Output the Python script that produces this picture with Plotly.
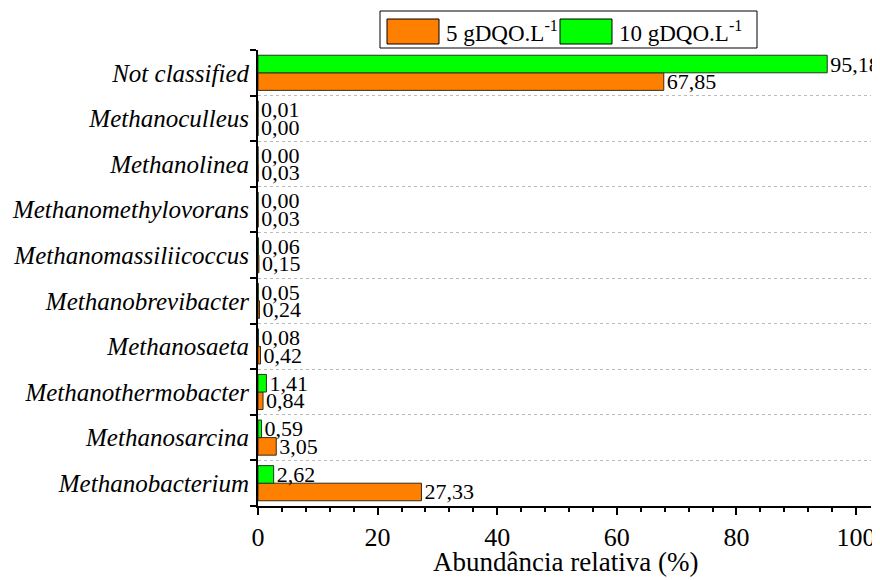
import plotly.graph_objects as go

categories = ["Not classified", "Methanoculleus", "Methanolinea", "Methanomethylovorans",
              "Methanomassiliicoccus", "Methanobrevibacter", "Methanosaeta",
              "Methanothermobacter", "Methanosarcina", "Methanobacterium"]
series_names = ["5 gDQO.L<sup>-1</sup>", "10 gDQO.L<sup>-1</sup>"]
val_5 = [67.85, 0.00, 0.03, 0.03, 0.15, 0.24, 0.42, 0.84, 3.05, 27.33]
val_10 = [95.18, 0.01, 0.00, 0.00, 0.06, 0.05, 0.08, 1.41, 0.59, 2.62]
x_ticks = [0, 20, 40, 60, 80, 100]
x_title = "Abundância relativa (%)"

COLORS = ["#FF7F00", "#00FF00"]
EDGES = ["#3a2a10", "#1a3a1a"]

cats = categories[::-1]
series_vals = [val_5[::-1], val_10[::-1]]

FONT = "Liberation Serif"

# page shows the figure offset by the 8px body margin
OFF = 8
L, R, T, B = 258 - OFF, 871 - OFF, 50 - OFF, 506 - OFF
W, H = R - L, B - T


def px(x):
    return (x - OFF - L) / W


def py(y):
    return (B - (y - OFF)) / H


fig = go.Figure()
for name, vals, col, edge in zip(series_names, series_vals, COLORS, EDGES):
    fig.add_trace(go.Bar(
        y=cats, x=vals, orientation="h", name=name,
        marker=dict(color=col, line=dict(color=edge, width=1)),
        texttemplate="%{x:.2f}", textposition="outside", cliponaxis=False,
        constraintext="none",
        textfont=dict(family=FONT, size=22, color="black"),
        showlegend=False,
    ))

# custom legend (box with wide swatches), positions in page pixels
shapes = [dict(type="rect", xref="paper", yref="paper",
               x0=px(380), x1=px(757), y0=py(48), y1=py(11),
               line=dict(color="black", width=1), fillcolor="white")]
annotations = []
sw_x = [387, 560]
txt_x = [444, 617]
for i, name in enumerate(series_names):
    shapes.append(dict(type="rect", xref="paper", yref="paper",
                       x0=px(sw_x[i]), x1=px(sw_x[i] + 52), y0=py(44), y1=py(19),
                       line=dict(color="black", width=1), fillcolor=COLORS[i]))
    annotations.append(dict(xref="paper", yref="paper", x=px(txt_x[i]), y=py(31.5),
                            xanchor="left", yanchor="middle", showarrow=False,
                            text=name, font=dict(family=FONT, size=23, color="black")))

# x-axis title
annotations.append(dict(xref="paper", yref="paper", x=px(565), y=py(562),
                        xanchor="center", yanchor="middle", showarrow=False,
                        text=x_title, font=dict(family=FONT, size=27, color="black")))

fig.update_layout(
    width=880, height=580,
    margin=dict(l=L, r=880 - R, t=T, b=580 - B, autoexpand=False),
    paper_bgcolor="white", plot_bgcolor="white",
    barmode="group", bargap=0.23, bargroupgap=0,
    separators=",.",
    font=dict(family=FONT, size=22, color="black"),
    showlegend=False,
    shapes=shapes, annotations=annotations,
    xaxis=dict(range=[0, 102.5], tickvals=x_ticks, ticktext=[str(t) for t in x_ticks],
               showline=True, linecolor="black", linewidth=2,
               ticks="outside", ticklen=7, tickwidth=2, tickcolor="black",
               minor=dict(dtick=4, ticks="outside", ticklen=4, tickwidth=1.5, tickcolor="black"),
               showgrid=False, zeroline=False, automargin=False,
               tickfont=dict(family=FONT, size=26)),
    yaxis=dict(type="category", tickson="boundaries", showline=True, linecolor="black", linewidth=2,
               ticks="outside", ticklen=6, tickwidth=2, tickcolor="black",
               showgrid=True, gridcolor="#bbbbbb", griddash="dot", gridwidth=1,
               automargin=False,
               tickfont=dict(family=FONT, size=25, style="italic"), ticklabelstandoff=2),
)

fig.write_html("out.html")
